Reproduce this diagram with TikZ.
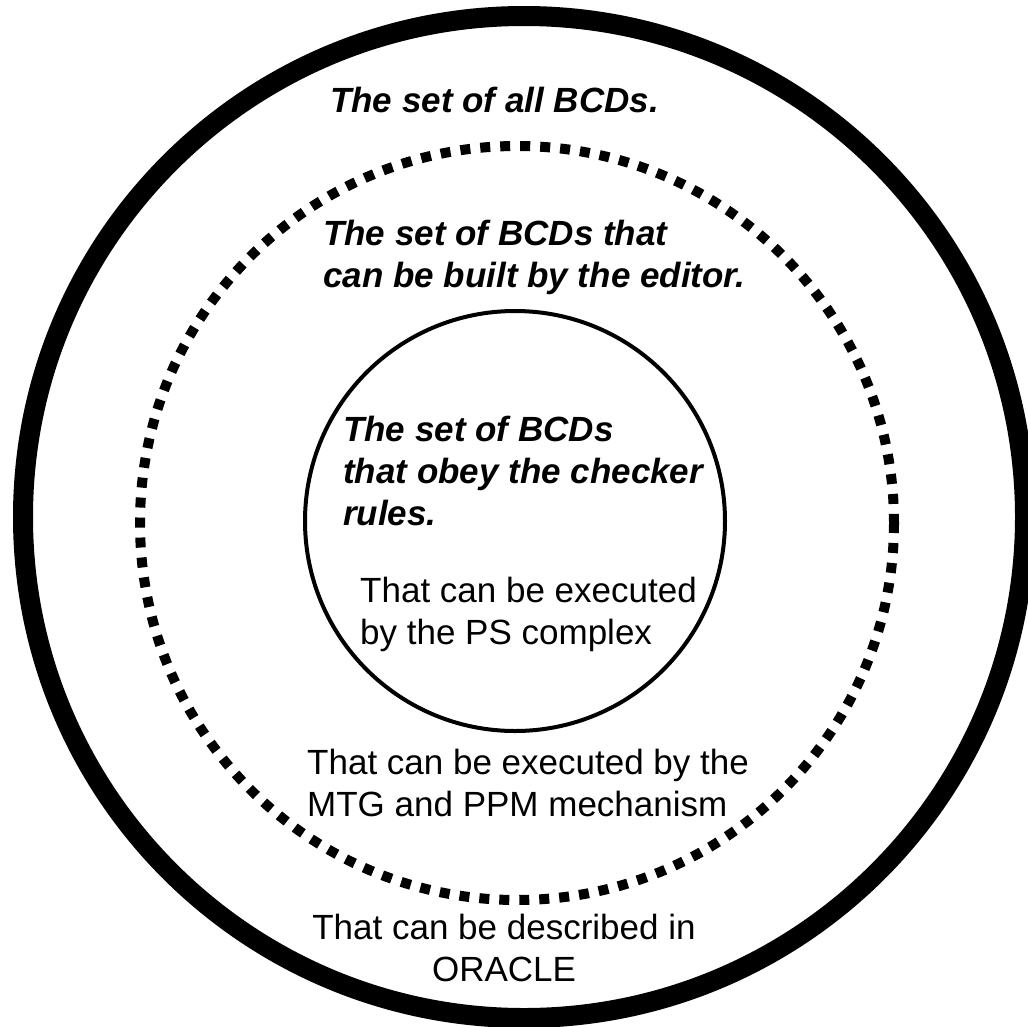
\documentclass[tikz,border=0pt]{standalone}
\usepackage{fontspec}
\setmainfont{Liberation Sans}
\begin{document}
\begin{tikzpicture}[x=1pt,y=-1pt,
  txt/.style={inner sep=0pt, font=\fontsize{35}{42}\selectfont, align=left, anchor=base west},
  bi/.style={txt, font=\fontsize{35}{42}\selectfont\bfseries\itshape},
  outerset/.style={line width=20pt},
  editorset/.style={line width=10pt, dash pattern=on 10pt off 10pt},
  innerset/.style={line width=4pt}]
\useasboundingbox (0,0) rectangle (1028,1026);
\clip (0,0) rectangle (1028,1026);
\fill[white] (0,0) rectangle (1028,1026);
\draw[outerset] (524,517) circle[radius=501];
\draw[editorset] (517,523) circle[radius=377];
\draw[innerset] (515,521) circle[radius=210];
% anchor "base" of a multi-line node lies on its last line
\node[bi] (all) at (330,112) {The set of all BCDs.};
\node[bi] (editor) at (323,287) {The set of BCDs that\\can be built by the editor.};
\node[bi] (checker) at (343,525) {The set of BCDs\\that obey the checker\\rules.};
\node[txt] (ps) at (360,644) {That can be executed\\by the PS complex};
\node[txt] (mtg) at (307,816) {That can be executed by the\\MTG and PPM mechanism};
\node[txt, align=center, anchor=base] (oracle) at (504,981) {That can be described in\\ORACLE};
\end{tikzpicture}
\end{document}
